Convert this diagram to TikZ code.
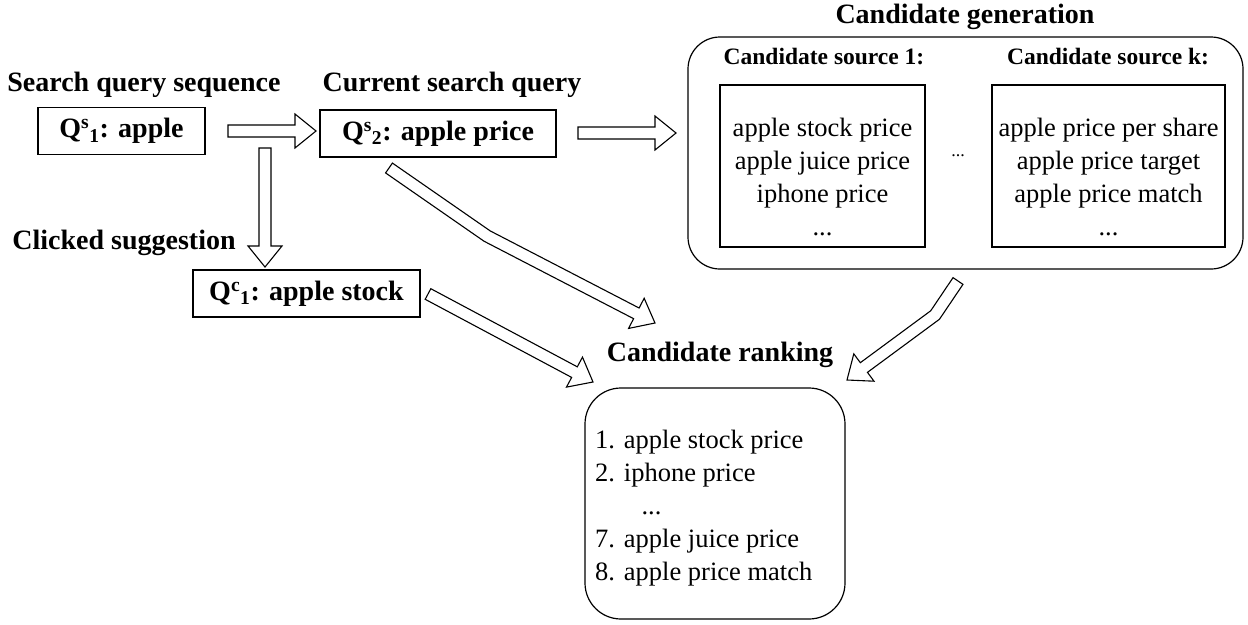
\documentclass[tikz,border=0pt]{standalone}
\usepackage{fontspec}
\setmainfont{Liberation Serif}
\usetikzlibrary{calc}
\tikzset{
  lbl/.style={font=\fontsize{28}{32}\selectfont\bfseries, inner sep=0pt},
  srclbl/.style={font=\fontsize{23.5}{28}\selectfont\bfseries, inner sep=0pt},
  qbox/.style={draw, line width=1.2pt, font=\fontsize{28}{32}\selectfont\bfseries, inner sep=0pt},
  listbox/.style={draw, line width=1.2pt, inner sep=0pt},
  roundbox/.style={draw, line width=1.2pt, rounded corners=32pt},
  txt/.style={font=\fontsize{26.5}{33}\selectfont, inner sep=0pt, align=center},
  blockarrow/.style={draw, line width=1.1pt, fill=white, line join=miter},
}
\def\arrowW{6pt}
\def\arrowH{17pt}
\def\arrowL{21pt}
\newcommand{\straightblock}[2]{%
  \coordinate (hb) at ($(#2)!\arrowL!(#1)$);
  \coordinate (al) at ($(#1)!\arrowW!90:(#2)$);
  \coordinate (ar) at ($(#1)!\arrowW!-90:(#2)$);
  \coordinate (hl) at ($(hb)!\arrowW!90:(#2)$);
  \coordinate (hr) at ($(hb)!\arrowW!-90:(#2)$);
  \coordinate (hwl) at ($(hb)!\arrowH!90:(#2)$);
  \coordinate (hwr) at ($(hb)!\arrowH!-90:(#2)$);
  \draw[blockarrow] (al) -- (hl) -- (hwl) -- (#2) -- (hwr) -- (hr) -- (ar) -- cycle;
}
\newcommand{\bentblock}[3]{%
  \coordinate (hb) at ($(#3)!\arrowL!(#2)$);
  \coordinate (al) at ($(#1)!\arrowW!90:(#2)$);
  \coordinate (ar) at ($(#1)!\arrowW!-90:(#2)$);
  \coordinate (bal) at ($(#2)!\arrowW!-90:(#1)$);
  \coordinate (bar) at ($(#2)!\arrowW!90:(#1)$);
  \coordinate (bbl) at ($(#2)!\arrowW!90:(#3)$);
  \coordinate (bbr) at ($(#2)!\arrowW!-90:(#3)$);
  \coordinate (hl) at ($(hb)!\arrowW!90:(#3)$);
  \coordinate (hr) at ($(hb)!\arrowW!-90:(#3)$);
  \coordinate (hwl) at ($(hb)!\arrowH!90:(#3)$);
  \coordinate (hwr) at ($(hb)!\arrowH!-90:(#3)$);
  \coordinate (jl) at (intersection of al--bal and bbl--hl);
  \coordinate (jr) at (intersection of ar--bar and bbr--hr);
  \draw[blockarrow] (al) -- (jl) -- (hl) -- (hwl) -- (#3) -- (hwr) -- (hr) -- (jr) -- (ar) -- cycle;
}
\begin{document}
\begin{tikzpicture}[x=1pt,y=-1pt]
\useasboundingbox (0,0) rectangle (1248,624);

% left part
\node[lbl] (seqlbl) at (144,85) {Search query sequence};
\node[qbox, minimum width=167pt, minimum height=47pt] (q1) at (121.5,131) {Q\textsuperscript{s}\textsubscript{1}: apple};
\node[lbl] (curlbl) at (452,85) {Current search query};
\node[qbox, minimum width=236pt, minimum height=47pt] (q2) at (438,133.5) {Q\textsuperscript{s}\textsubscript{2}: apple price};
\node[lbl] (clklbl) at (124,243) {Clicked suggestion};
\node[qbox, minimum width=227pt, minimum height=47pt] (qc) at (306.5,293.5) {Q\textsuperscript{c}\textsubscript{1}: apple stock};

% candidate generation
\node[lbl] (genlbl) at (965,17) {Candidate generation};
\draw[roundbox] (688,37) rectangle (1243,269);
\coordinate (gen) at (965.5,153);
\node[srclbl] (s1lbl) at (824,57) {Candidate source 1:};
\node[listbox, minimum width=205pt, minimum height=162pt] (s1) at (822.5,166) {};
\node[txt] (s1txt) at (822.5,177) {apple stock price\\apple juice price\\iphone price\\...};
\node[srclbl] (sklbl) at (1108,57) {Candidate source k:};
\node[listbox, minimum width=233pt, minimum height=162pt] (sk) at (1108.5,166) {};
\node[txt] (sktxt) at (1108.5,177) {apple price per share\\apple price target\\apple price match\\...};
\node[font=\fontsize{18}{20}\selectfont, inner sep=0pt] (dots) at (958,156) {...};

% candidate ranking
\node[lbl] (ranklbl) at (720,355) {Candidate ranking};
\draw[roundbox, rounded corners=36pt] (585,388) rectangle (845,619);
\node[txt, align=left, anchor=north west] (ranktxt) at (595,430) {1. apple stock price\\2. iphone price\\\hspace*{1.75em}...\\7. apple juice price\\8. apple price match};

% block arrows
\coordinate (a1s) at (228,131);  \coordinate (a1e) at (316,131);
\straightblock{a1s}{a1e}
\coordinate (a2s) at (578,133);  \coordinate (a2e) at (676,133);
\straightblock{a2s}{a2e}
\coordinate (a3s) at (265,148);  \coordinate (a3e) at (265,267);
\straightblock{a3s}{a3e}
\coordinate (a4s) at (389,168);  \coordinate (a4b) at (487,236); \coordinate (a4e) at (655,323);
\bentblock{a4s}{a4b}{a4e}
\coordinate (a5s) at (428,294);  \coordinate (a5e) at (593,382);
\straightblock{a5s}{a5e}
\coordinate (a6s) at (958,281);  \coordinate (a6b) at (935,315); \coordinate (a6e) at (847,380);
\bentblock{a6s}{a6b}{a6e}
\end{tikzpicture}
\end{document}
